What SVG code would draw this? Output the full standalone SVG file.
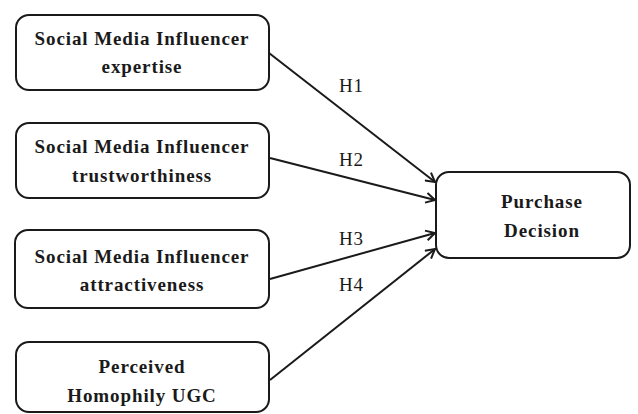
<svg xmlns="http://www.w3.org/2000/svg" width="638" height="414" viewBox="0 0 638 414">
<style>
.box{fill:#fff;stroke:#1a1a1a;stroke-width:2}
.t{font-family:"Liberation Serif","Times New Roman",serif;font-weight:bold;font-size:19px;letter-spacing:0.9px;fill:#1a1a1a;text-anchor:middle}
.h{font-family:"Liberation Serif","Times New Roman",serif;font-size:19px;letter-spacing:0.8px;fill:#1a1a1a}
.c{stroke:#1a1a1a;stroke-width:2;fill:none;marker-end:url(#ah)}
</style>
<defs>
<marker id="ah" viewBox="0 0 12 12" refX="11" refY="6" markerWidth="12" markerHeight="12" markerUnits="userSpaceOnUse" orient="auto">
<path d="M2,1 L11,6 L2,11" fill="none" stroke="#1a1a1a" stroke-width="2"/>
</marker>
</defs>
<rect width="638" height="414" fill="#fff"/>
<g id="n1"><rect class="box" x="16" y="15" width="253" height="75" rx="13"/>
<text class="t" x="142" y="45">Social Media Influencer</text><text class="t" x="142" y="73">expertise</text></g>
<g id="n2"><rect class="box" x="16" y="123" width="253" height="75" rx="13"/>
<text class="t" x="142" y="153">Social Media Influencer</text><text class="t" x="142" y="182">trustworthiness</text></g>
<g id="n3"><rect class="box" x="15" y="230" width="254" height="78" rx="13"/>
<text class="t" x="142" y="263">Social Media Influencer</text><text class="t" x="142" y="291">attractiveness</text></g>
<g id="n4"><rect class="box" x="16" y="342" width="253" height="70" rx="13"/>
<text class="t" x="142" y="373">Perceived</text><text class="t" x="142" y="402">Homophily UGC</text></g>
<g id="n5"><rect class="box" x="436" y="172" width="194" height="86" rx="13"/>
<text class="t" x="542" y="208">Purchase</text><text class="t" x="542" y="237">Decision</text></g>
<g id="connectors">
<line class="c" x1="269" y1="53" x2="435" y2="182"/>
<line class="c" x1="270" y1="158" x2="435" y2="200"/>
<line class="c" x1="270" y1="279" x2="435" y2="233"/>
<line class="c" x1="270" y1="380" x2="435" y2="249"/>
<text class="h" x="339" y="92">H1</text>
<text class="h" x="339" y="166">H2</text>
<text class="h" x="339" y="245">H3</text>
<text class="h" x="339" y="291">H4</text>
</g>
</svg>
